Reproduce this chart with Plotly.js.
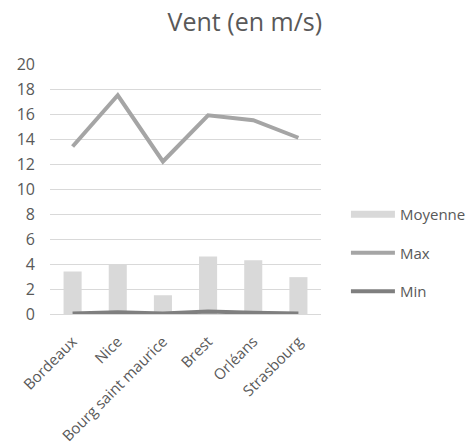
<!DOCTYPE html>
<html><head><meta charset="utf-8">
<script src="https://cdn.plot.ly/plotly-3.0.1.min.js"></script>
<style>html,body{margin:0;padding:0;background:#fff}#chart{width:470px;height:444px}</style>
</head><body><div id="chart"></div>
<script>
const categories = ["Bordeaux", "Nice", "Bourg saint maurice", "Brest", "Orléans", "Strasbourg"];
const moyenne = [3.4, 4.0, 1.5, 4.6, 4.3, 2.95];
const maxVals = [13.4, 17.5, 12.2, 15.9, 15.5, 14.1];
const minVals = [0.05, 0.15, 0.05, 0.2, 0.1, 0.05];
const yTicks = [0, 2, 4, 6, 8, 10, 12, 14, 16, 18, 20];

const fam = "Open Sans, Liberation Sans, sans-serif";
const txt = "#595959";
const data = [
  {type: "bar", name: "Moyenne", x: categories, y: moyenne, marker: {color: "#d9d9d9"}, showlegend: false, legendgroup: "a"},
  {type: "scatter", mode: "lines", name: "Moyenne", x: [null], y: [null], line: {color: "#d9d9d9", width: 7}, legendgroup: "a", showlegend: true},
  {type: "scatter", mode: "lines", name: "Max", x: categories, y: maxVals, line: {color: "#a5a5a5", width: 4}, legendgroup: "b"},
  {type: "scatter", mode: "lines", name: "Min", x: categories, y: minVals, line: {color: "#7f7f7f", width: 4}, legendgroup: "c"}
];
const layout = {
  width: 470, height: 444,
  margin: {l: 50, r: 149, t: 64, b: 130, autoexpand: false},
  paper_bgcolor: "#fff", plot_bgcolor: "#fff",
  font: {family: fam, color: txt, size: 15},
  title: {text: "Vent (en m/s)", x: 0.521, xanchor: "center", y: 0.95, yanchor: "middle", font: {family: fam, size: 25, color: txt}},
  bargap: 0.6,
  showlegend: true,
  legend: {x: 1.092, xanchor: "left", y: 0.244, yanchor: "middle", itemwidth: 44, font: {family: fam, size: 15, color: txt}, tracegroupgap: 16, traceorder: "grouped", bgcolor: "rgba(0,0,0,0)"},
  xaxis: {type: "category", tickangle: -45, showgrid: false, showline: true, linecolor: "#d9d9d9", linewidth: 1, ticks: "", ticklabelstandoff: 12, tickfont: {family: fam, size: 15, color: txt}, automargin: false},
  yaxis: {range: [0, 20], tickvals: yTicks, showgrid: true, gridcolor: "#d9d9d9", gridwidth: 1, zeroline: false, showline: false, ticks: "", ticklabelstandoff: 14, tickfont: {family: fam, size: 16, color: txt}, automargin: false}
};
Plotly.newPlot("chart", data, layout, {displayModeBar: false, staticPlot: true});
</script></body></html>
